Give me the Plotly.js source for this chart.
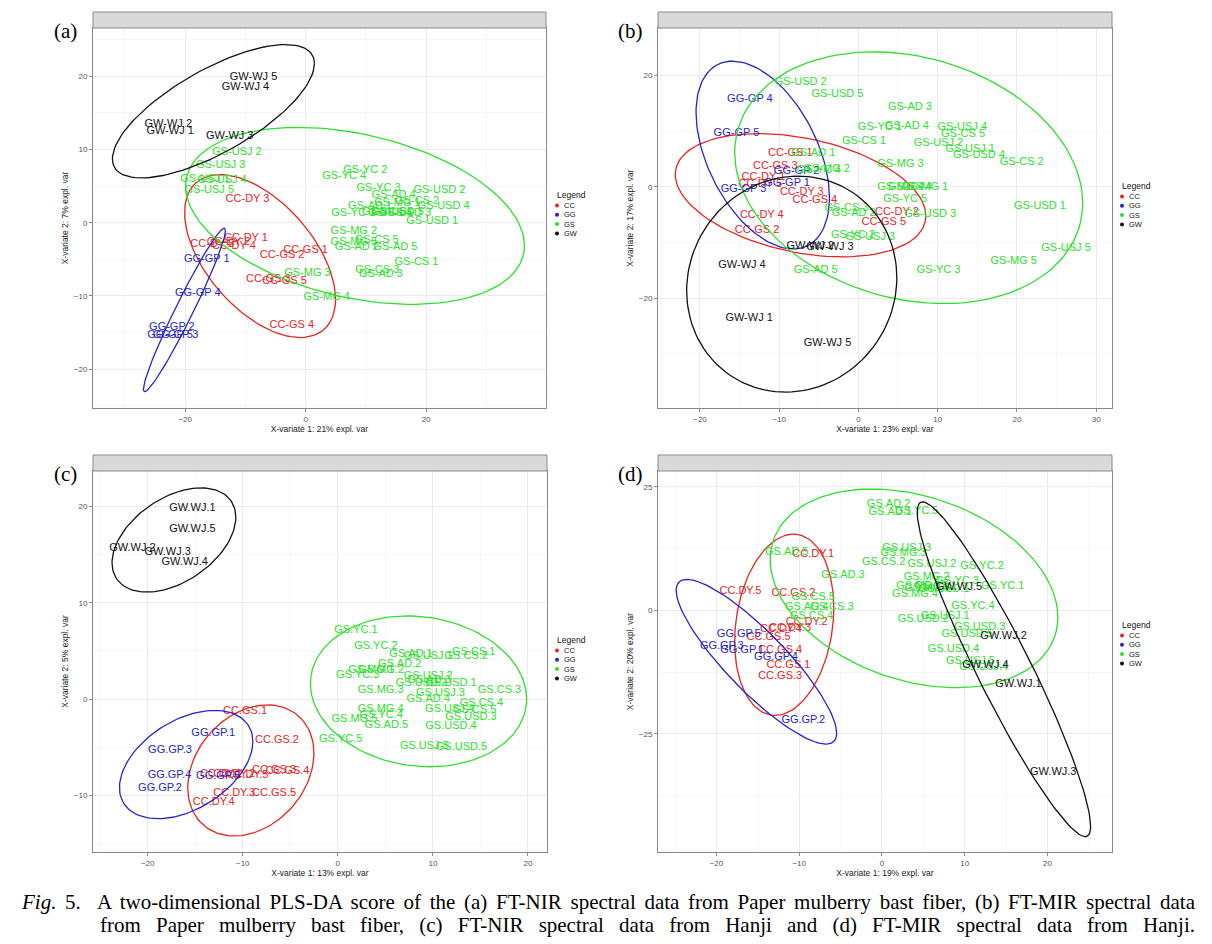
<!DOCTYPE html>
<html>
<head>
<meta charset="utf-8">
<script src="https://cdn.plot.ly/plotly-3.0.1.min.js"></script>
<style>
  body { margin: 0; background: #fff; }
  #wrap { position: relative; width: 1212px; height: 944px; }
  #chart { width: 1212px; height: 944px; }
  .cap {
    position: absolute; font-family: 'Liberation Serif', 'Times New Roman', serif;
    font-size: 21px; line-height: 23px; color: #000; white-space: nowrap;
    text-align: justify; text-align-last: justify;
  }
  .cap span.nw { white-space: normal; }
  #cap1 { left: 22px; width: 1173px; top: 891px; white-space: normal; }
  #cap2 { left: 100px; width: 1095px; top: 914px; white-space: normal; }
</style>
</head>
<body>
<div id="wrap">
  <div id="chart"></div>
  <div class="cap" id="cap1"><i>Fig.</i> 5.&nbsp; A two-dimensional PLS-DA score of the (a) FT-NIR spectral data from Paper mulberry bast fiber, (b) FT-MIR spectral data</div>
  <div class="cap" id="cap2">from Paper mulberry bast fiber, (c) FT-NIR spectral data from Hanji and (d) FT-MIR spectral data from Hanji.</div>
</div>
<script>
// PLS-DA SCORE PLOTS - four panels, sample names drawn as text

// GROUPS
const groups = ['CC', 'GG', 'GS', 'GW'];

// (a) FT-NIR, paper mulberry bast fiber
const aLabels = ['CC-DY 1','CC-DY 2','CC-DY 3','CC-DY 4','CC-DY 5','CC-GS 1','CC-GS 2','CC-GS 3','CC-GS 4','CC-GS 5',
  'GG-GP 1','GG-GP 2','GG-GP 3','GG-GP 4','GG-GP 5',
  'GS-AD 1','GS-AD 2','GS-AD 3','GS-AD 4','GS-AD 5','GS-CS 1','GS-CS 2','GS-CS 3','GS-CS 4','GS-CS 5',
  'GS-MG 1','GS-MG 2','GS-MG 3','GS-MG 4','GS-MG 5','GS-USD 1','GS-USD 2','GS-USD 3','GS-USD 4','GS-USD 5',
  'GS-USJ 1','GS-USJ 2','GS-USJ 3','GS-USJ 4','GS-USJ 5','GS-YC 1','GS-YC 2','GS-YC 3','GS-YC 4','GS-YC 5',
  'GW-WJ 1','GW-WJ 2','GW-WJ 3','GW-WJ 4','GW-WJ 5'];
const aX = [-9.9,-12.8,-9.65,-11.9,-15.5,0.0,-3.9,-6.2,-2.3,-3.5,
  -16.4,-22.2,-21.6,-17.9,-22.5,
  10.7,8.5,12.5,14.6,14.9,18.4,18.5,11.9,14.0,11.8,
  15.2,8.0,0.3,3.5,8.0,21.0,22.2,16.5,22.9,15.3,
  -16.7,-11.4,-14.1,-13.9,-16.0,7.9,9.9,12.1,6.4,13.0,
  -22.5,-22.8,-12.6,-10.0,-8.65];
const aY = [-2.1,-2.6,3.2,-3.2,-3.0,-3.7,-4.4,-7.7,-14.0,-8.0,
  -4.95,-14.3,-15.4,-9.6,-15.3,
  2.3,-3.3,-7.0,3.8,-3.4,-5.4,2.9,-6.45,1.3,-2.45,
  2.6,-1.1,-6.9,-10.2,-2.6,0.15,4.5,1.3,2.2,1.4,
  5.9,9.65,7.8,5.8,4.4,1.3,7.2,4.7,6.4,1.5,
  12.5,13.4,11.8,18.55,19.9];

// (b) FT-MIR, paper mulberry bast fiber
const bLabels = aLabels;
const bX = [-12.0,4.85,-7.15,-12.2,-12.4,-8.6,-12.8,-10.5,-5.5,3.2,
  -9.0,-7.8,-14.5,-13.7,-15.4,
  -5.7,-0.6,6.5,6.1,-5.4,0.7,20.6,-1.5,6.5,13.2,
  8.4,-4.0,5.3,5.3,19.6,22.9,-7.3,9.05,15.2,-2.65,
  14.1,10.1,1.5,13.1,26.2,2.7,-0.7,10.1,-5.0,5.9,
  -13.8,-6.1,-3.6,-14.7,-3.9];
const bY = [1.8,-4.5,-1.0,-5.1,0.5,6.0,-7.8,3.7,-2.4,-6.3,
  0.6,2.8,-0.4,15.8,9.7,
  6.0,-4.8,14.3,10.9,-14.9,8.2,4.4,-3.9,-0.1,9.45,
  -0.1,3.2,4.1,-0.1,-13.4,-3.5,18.8,-4.9,5.6,16.6,
  6.75,7.8,-9.1,10.6,-11.0,10.75,-8.7,-14.9,3.0,-2.2,
  -23.6,-10.75,-10.9,-14.0,-28.1];

// (c) FT-NIR, Hanji
const cLabels = aLabels.map(s => s.replace('-', '.').replace(' ', '.'));
const cX = [-12.3,-10.9,-10.9,-13.05,-9.5,-9.75,-6.4,-6.7,-5.3,-6.7,
  -13.1,-18.7,-17.65,-17.7,-12.6,
  7.7,6.5,9.6,9.5,5.1,14.3,13.5,17.0,15.1,14.4,
  3.5,4.55,4.5,4.5,1.75,11.9,8.8,14.0,11.9,13.0,
  9.5,9.5,10.8,11.75,9.1,1.9,4.0,2.1,4.55,0.3,
  -15.3,-21.6,-17.9,-16.1,-15.3];
const cY = [-7.8,-7.8,-9.75,-10.7,-7.9,-1.3,-4.25,-7.4,-7.55,-9.75,
  -3.6,-9.25,-5.3,-7.9,-8.0,
  4.7,3.6,2.0,0.0,-2.7,4.9,4.4,0.9,-0.4,-1.2,
  3.0,3.0,0.9,-1.1,-2.15,1.6,1.6,-1.9,-2.8,-5.0,
  4.4,2.4,0.6,-1.1,-4.95,7.1,5.5,2.5,-1.7,-4.15,
  19.8,15.7,15.3,14.2,17.65];

// (d) FT-MIR, Hanji
const dLabels = cLabels;
const dX = [-8.3,-9.1,-11.1,-12.2,-17.1,-11.3,-10.7,-12.3,-12.3,-13.7,
  -16.9,-9.5,-19.35,-12.8,-17.3,
  1.0,0.8,-4.7,-9.1,-11.5,6.5,0.2,-6.05,-8.5,-8.3,
  4.5,5.4,2.6,4.0,5.5,7.5,5.0,11.8,8.65,10.3,
  7.65,6.05,3.0,12.3,10.7,14.6,12.1,9.1,11.0,4.2,
  16.5,14.7,20.7,12.5,9.3];
const dY = [11.4,-2.4,-3.7,-3.9,3.9,-11.2,3.5,-13.4,-8.0,-5.4,
  -8.1,-22.2,-7.3,-9.5,-4.9,
  19.9,21.4,7.1,0.55,11.8,4.8,9.7,0.7,-1.2,2.7,
  4.9,6.75,11.5,3.2,4.5,4.3,-1.9,-3.5,-7.9,-4.9,
  -1.2,9.3,12.5,-11.6,-10.3,4.9,8.9,5.9,0.8,20.1,
  -15.0,-5.3,-32.8,-11.2,4.7];

// STYLE
const W = 1212, H = 944;
const colors = { CC: '#e8231f', GG: '#2424cc', GS: '#2ee02e', GW: '#111111' };
const sans = 'Liberation Sans, Arial, sans-serif';
const serif = 'Liberation Serif, Times New Roman, serif';

// panel boxes in page pixels: left, right, top, bottom (plot area, strip sits above)
const panels = [
  { tag: '(a)', labels: aLabels, xs: aX, ys: aY, box: [93, 546, 28, 408], xr: [-35.3, 39.9], yr: [-25.3, 26.6], xd: 20, yd: 10,
    xt: 'X-variate 1: 21% expl. var', yt: 'X-variate 2: 7% expl. var', leg: [555, 195] },
  { tag: '(b)', labels: bLabels, xs: bX, ys: bY, box: [658, 1112, 28, 408], xr: [-25.3, 32.0], yr: [-39.7, 28.5], xd: 10, yd: 20,
    xt: 'X-variate 1: 23% expl. var', yt: 'X-variate 2: 17% expl. var', leg: [1120, 186] },
  { tag: '(c)', labels: cLabels, xs: cX, ys: cY, box: [93, 547, 471, 852], xr: [-25.75, 22.0], yr: [-15.9, 23.7], xd: 10, yd: 10,
    xt: 'X-variate 1: 13% expl. var', yt: 'X-variate 2: 5% expl. var', leg: [555, 640] },
  { tag: '(d)', labels: dLabels, xs: dX, ys: dY, box: [658, 1112, 471, 852], xr: [-27.06, 27.8], yr: [-48.9, 28.2], xd: 10, yd: 25,
    xt: 'X-variate 1: 19% expl. var', yt: 'X-variate 2: 20% expl. var', leg: [1120, 625] }
];

// 95% confidence ellipse of a group's scores (chi-square, 2 df), as mixOmics draws it
function confEllipse(xs, ys) {
  const n = xs.length;
  const mx = xs.reduce((a, b) => a + b, 0) / n;
  const my = ys.reduce((a, b) => a + b, 0) / n;
  let sxx = 0, syy = 0, sxy = 0;
  for (let i = 0; i < n; i++) {
    sxx += (xs[i] - mx) ** 2;
    syy += (ys[i] - my) ** 2;
    sxy += (xs[i] - mx) * (ys[i] - my);
  }
  sxx /= n - 1; syy /= n - 1; sxy /= n - 1;
  const t = Math.sqrt(5.991465);
  const a = Math.sqrt(sxx), b = sxy / a, c = Math.sqrt(Math.max(syy - b * b, 0));
  const ex = [], ey = [];
  for (let i = 0; i <= 120; i++) {
    const th = 2 * Math.PI * i / 120;
    ex.push(mx + t * a * Math.cos(th));
    ey.push(my + t * (b * Math.cos(th) + c * Math.sin(th)));
  }
  return { ex, ey };
}

const px = v => v / W;
const py = v => 1 - v / H;

const traces = [];
const layout = {
  width: W, height: H,
  margin: { l: 0, r: 0, t: 0, b: 0 },
  paper_bgcolor: 'rgba(0,0,0,0)', plot_bgcolor: '#fff',
  showlegend: false,
  font: { family: sans },
  shapes: [], annotations: []
};

panels.forEach((p, k) => {
  const sfx = k === 0 ? '' : String(k + 1);
  const xa = 'x' + sfx, ya = 'y' + sfx;
  const [l, r, t, b] = p.box;

  groups.forEach(g => {
    const idx = p.labels.map((s, i) => s.startsWith(g) ? i : -1).filter(i => i >= 0);
    const gx = idx.map(i => p.xs[i]), gy = idx.map(i => p.ys[i]);
    const e = confEllipse(gx, gy);
    traces.push({
      x: e.ex, y: e.ey, xaxis: xa, yaxis: ya, type: 'scatter', mode: 'lines',
      line: { color: colors[g], width: 1.3 }, hoverinfo: 'skip'
    });
    traces.push({
      x: gx, y: gy, text: idx.map(i => p.labels[i]), xaxis: xa, yaxis: ya,
      type: 'scatter', mode: 'text', textposition: 'middle center',
      textfont: { family: sans, size: 11, color: colors[g] }, name: g
    });
  });

  const axisBase = {
    showgrid: true, gridcolor: '#ebebeb', gridwidth: 1, zeroline: false,
    showline: true, mirror: true, linecolor: '#8a8a8a', linewidth: 1,
    ticks: 'outside', ticklen: 3, tickcolor: '#8a8a8a', tick0: 0,
    tickfont: { family: sans, size: 8, color: '#555' }
  };
  layout['xaxis' + sfx] = Object.assign({}, axisBase, {
    domain: [px(l), px(r)], anchor: ya, range: p.xr, dtick: p.xd,
    minor: { dtick: p.xd / 2, tick0: 0, showgrid: true, gridcolor: '#f4f4f4', gridwidth: 0.7 },
    title: { text: p.xt, font: { family: sans, size: 8.5, color: '#222' }, standoff: 3 }
  });
  layout['yaxis' + sfx] = Object.assign({}, axisBase, {
    domain: [py(b), py(t)], anchor: xa, range: p.yr, dtick: p.yd,
    minor: { dtick: p.yd / 2, tick0: 0, showgrid: true, gridcolor: '#f4f4f4', gridwidth: 0.7 },
    title: { text: p.yt, font: { family: sans, size: 8.5, color: '#222' }, standoff: 3 }
  });

  // facet strip
  layout.shapes.push({
    type: 'rect', xref: 'paper', yref: 'paper', x0: px(l), x1: px(r), y0: py(t), y1: py(t - 16),
    fillcolor: '#d9d9d9', line: { color: '#8a8a8a', width: 1 }, layer: 'above'
  });

  // panel tag
  layout.annotations.push({
    xref: 'paper', yref: 'paper', x: px(l - 28), y: py(t + 3), xanchor: 'center', yanchor: 'middle',
    text: p.tag, showarrow: false, font: { family: serif, size: 21, color: '#000' }
  });

  // legend, drawn by hand to keep ggplot's tight spacing
  const [lx, ly] = p.leg;
  layout.annotations.push({
    xref: 'paper', yref: 'paper', x: px(lx), y: py(ly), xanchor: 'left', yanchor: 'middle',
    text: 'Legend', showarrow: false, font: { family: sans, size: 8.5, color: '#111' }
  });
  groups.forEach((g, j) => {
    const gy = ly + 10.5 + j * 9.3;
    layout.shapes.push({
      type: 'circle', xref: 'paper', yref: 'paper', x0: px(lx), x1: px(lx + 4), y0: py(gy + 2), y1: py(gy - 2),
      fillcolor: colors[g], line: { width: 0 }
    });
    layout.annotations.push({
      xref: 'paper', yref: 'paper', x: px(lx + 7), y: py(gy), xanchor: 'left', yanchor: 'middle',
      text: g, showarrow: false, font: { family: sans, size: 7.5, color: '#111' }
    });
  });
});

Plotly.newPlot('chart', traces, layout, { displayModeBar: false, staticPlot: true });
</script>
</body>
</html>
